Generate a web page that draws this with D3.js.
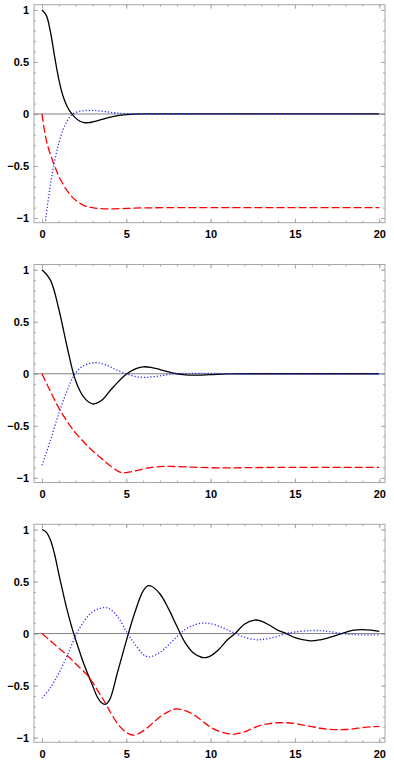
<!DOCTYPE html>
<html>
<head>
<meta charset="utf-8">
<script src="https://cdn.jsdelivr.net/npm/d3@7"></script>
<style>
  body { margin: 0; background: #fff; }
  svg { display: block; }
</style>
</head>
<body>
<div id="chart"></div>
<script>
// values, [t, value]
const black1 = [[0,1],[0.25,0.95],[0.5,0.79],[0.75,0.55],[1,0.33],[1.25,0.17],[1.5,0.07],[1.75,0.005],[2,-0.04],[2.25,-0.07],[2.5,-0.083],[2.75,-0.084],[3,-0.077],[3.5,-0.055],[4,-0.032],[4.5,-0.016],[5,-0.007],[5.5,-0.002],[6,0],[10,0],[20,0]];
const blue1 = [[0,-1.3],[0.25,-0.97],[0.5,-0.68],[0.75,-0.45],[1,-0.28],[1.25,-0.15],[1.5,-0.065],[1.75,-0.01],[2,0.015],[2.5,0.032],[3,0.035],[3.5,0.028],[4,0.017],[4.5,0.008],[5,0.003],[6,0],[10,0],[20,0]];
const red1 = [[0,0],[0.25,-0.25],[0.5,-0.39],[0.75,-0.5],[1,-0.6],[1.5,-0.74],[2,-0.83],[2.5,-0.88],[3,-0.9],[3.5,-0.91],[4,-0.912],[5,-0.908],[6,-0.903],[8,-0.9],[20,-0.9]];

const black2 = [[0,1],[0.5,0.9],[1,0.62],[1.5,0.25],[2,-0.07],[2.5,-0.23],[3,-0.29],[3.5,-0.26],[4,-0.17],[4.5,-0.08],[5,-0.005],[5.5,0.045],[6,0.067],[6.5,0.06],[7,0.04],[7.5,0.018],[8,0],[8.5,-0.01],[9,-0.013],[10,-0.008],[11,-0.002],[12,0],[15,0],[20,0]];
const blue2 = [[0,-0.88],[0.5,-0.64],[1,-0.38],[1.5,-0.16],[2,0.01],[2.5,0.08],[3,0.105],[3.5,0.1],[4,0.07],[4.5,0.03],[5,0],[5.5,-0.025],[6,-0.035],[6.5,-0.03],[7,-0.02],[7.5,-0.008],[8,0],[9,0.004],[10,0.003],[12,0],[20,0]];
const red2 = [[0,0],[0.5,-0.17],[1,-0.33],[1.5,-0.46],[2,-0.57],[2.5,-0.66],[3,-0.74],[3.5,-0.81],[4,-0.88],[4.5,-0.935],[4.75,-0.952],[5,-0.95],[5.5,-0.935],[6,-0.915],[6.5,-0.9],[7,-0.892],[7.5,-0.89],[8,-0.892],[9,-0.898],[10,-0.903],[11,-0.905],[12,-0.903],[14,-0.9],[20,-0.9]];

const black3 = [[0,1],[0.25,0.975],[0.5,0.9],[0.75,0.76],[1,0.57],[1.25,0.39],[1.5,0.22],[1.75,0.07],[2,-0.06],[2.5,-0.3],[3,-0.5],[3.25,-0.6],[3.5,-0.66],[3.75,-0.68],[4,-0.64],[4.5,-0.36],[5,-0.07],[5.5,0.2],[6,0.41],[6.3,0.46],[6.5,0.455],[7,0.38],[7.5,0.24],[8,0.07],[8.5,-0.09],[9,-0.19],[9.5,-0.23],[9.75,-0.23],[10,-0.215],[10.5,-0.15],[11,-0.06],[11.45,0],[12,0.09],[12.6,0.13],[13,0.12],[13.5,0.08],[14,0.03],[14.5,0],[15,-0.04],[15.9,-0.07],[16.5,-0.06],[17,-0.04],[17.77,0],[18.5,0.033],[19,0.038],[19.5,0.033],[20,0.022]];
const blue3 = [[0,-0.62],[0.5,-0.52],[1,-0.38],[1.5,-0.21],[2,-0.02],[2.5,0.12],[3,0.21],[3.5,0.245],[3.75,0.25],[4,0.24],[4.5,0.16],[5,0.02],[5.5,-0.1],[6,-0.2],[6.3,-0.224],[6.5,-0.22],[7,-0.18],[7.5,-0.11],[8,-0.03],[8.5,0.04],[9,0.08],[9.5,0.1],[10,0.095],[10.5,0.07],[11,0.035],[11.5,-0.002],[12,-0.035],[12.7,-0.06],[13,-0.058],[13.5,-0.045],[14,-0.025],[14.5,0],[15,0.015],[16,0.029],[16.5,0.028],[17,0.02],[17.8,0],[18.5,-0.01],[19,-0.013],[19.5,-0.013],[20,-0.012]];
const red3 = [[0,0],[0.5,-0.07],[1,-0.14],[1.5,-0.21],[2,-0.29],[2.63,-0.39],[3,-0.47],[3.5,-0.6],[3.8,-0.68],[4,-0.74],[4.5,-0.87],[5,-0.95],[5.35,-0.975],[5.75,-0.96],[6,-0.935],[6.5,-0.87],[7,-0.8],[7.5,-0.75],[7.93,-0.725],[8.5,-0.74],[9,-0.78],[9.5,-0.84],[10,-0.9],[10.5,-0.94],[11,-0.962],[11.25,-0.968],[11.5,-0.965],[12,-0.945],[12.5,-0.91],[13,-0.88],[13.5,-0.865],[14,-0.857],[14.5,-0.857],[15,-0.865],[15.5,-0.88],[16,-0.895],[16.5,-0.91],[17,-0.92],[17.5,-0.924],[18,-0.922],[18.5,-0.915],[19,-0.905],[19.5,-0.897],[20,-0.892]];

const xMajor = [0, 5, 10, 15, 20];
const xMinor = d3.range(0, 21, 1);
const yMajor = [-1, -0.5, 0, 0.5, 1];
const yMajorLabels = ["\u22121", "\u22120.5", "0", "0.5", "1"];
const yMinor = d3.range(-10, 11).map(d => d / 10);

//DIMENSIONS
const width = 394,
	height = 765,
	frameLeft = 34,
	frameRight = 385,
	frameH = 218;
const panelTops = [4.7, 264.5, 524.3];

const svg = d3.select("#chart").append("svg").attr("width", width).attr("height", height);

const x = d3.scaleLinear().domain([-0.474, 20.34]).range([frameLeft, frameRight]);
const y = d3.scaleLinear().domain([-1.045, 1.05]).range([frameH, 0]);

const line = d3
	.line()
	.x(d => x(d[0]))
	.y(d => y(d[1]))
	.curve(d3.curveCatmullRom.alpha(0.5));

const panels = [
	[black1, blue1, red1],
	[black2, blue2, red2],
	[black3, blue3, red3],
];

panels.forEach((series, i) => {
	const g = svg.append("g").attr("transform", `translate(0,${panelTops[i]})`);

	g.append("clipPath")
		.attr("id", "clip" + i)
		.append("rect")
		.attr("x", frameLeft)
		.attr("y", 0)
		.attr("width", frameRight - frameLeft)
		.attr("height", frameH);

	//TICKS (inward, all four sides)
	const tickStyle = sel => {
		sel.select(".domain").remove();
		sel.selectAll("line").attr("stroke", "#a6a6a6");
		sel.selectAll("text")
			.style("font-family", "'Liberation Sans', Arial, sans-serif")
			.style("font-weight", "bold")
			.style("font-size", "11px")
			.attr("fill", "#000");
	};

	g.append("g")
		.attr("transform", `translate(${frameLeft},0)`)
		.call(d3.axisLeft(y).tickValues(yMinor).tickSize(-2).tickFormat(""))
		.call(tickStyle);
	g.append("g")
		.attr("transform", `translate(${frameLeft},0)`)
		.call(d3.axisLeft(y).tickValues(yMajor).tickSize(-4).tickPadding(5).tickFormat((d, j) => yMajorLabels[j]))
		.call(tickStyle);
	g.append("g")
		.attr("transform", `translate(${frameRight},0)`)
		.call(d3.axisRight(y).tickValues(yMinor).tickSize(-2).tickFormat(""))
		.call(tickStyle);
	g.append("g")
		.attr("transform", `translate(${frameRight},0)`)
		.call(d3.axisRight(y).tickValues(yMajor).tickSize(-4).tickFormat(""))
		.call(tickStyle);
	g.append("g")
		.attr("transform", `translate(0,${frameH})`)
		.call(d3.axisBottom(x).tickValues(xMinor).tickSize(-2).tickFormat(""))
		.call(tickStyle);
	g.append("g")
		.attr("transform", `translate(0,${frameH})`)
		.call(d3.axisBottom(x).tickValues(xMajor).tickSize(-4).tickPadding(8).tickFormat(d3.format("d")))
		.call(tickStyle);
	g.append("g")
		.call(d3.axisTop(x).tickValues(xMinor).tickSize(-2).tickFormat(""))
		.call(tickStyle);
	g.append("g")
		.call(d3.axisTop(x).tickValues(xMajor).tickSize(-4).tickFormat(""))
		.call(tickStyle);

	//FRAME
	g.append("rect")
		.attr("x", frameLeft)
		.attr("y", 0)
		.attr("width", frameRight - frameLeft)
		.attr("height", frameH)
		.attr("fill", "none")
		.attr("stroke", "#a6a6a6")
		.attr("stroke-width", 1);

	//ZERO AXIS
	g.append("line")
		.attr("x1", frameLeft)
		.attr("x2", frameRight)
		.attr("y1", y(0))
		.attr("y2", y(0))
		.attr("stroke", "#808080")
		.attr("stroke-width", 1);

	const curves = g.append("g").attr("clip-path", `url(#clip${i})`);

	// black solid
	curves.append("path")
		.datum(series[0])
		.attr("d", line)
		.attr("fill", "none")
		.attr("stroke", "#000")
		.attr("stroke-width", 1.3);

	// blue dotted
	curves.append("path")
		.datum(series[1])
		.attr("d", line)
		.attr("fill", "none")
		.attr("stroke", "#2b2bff")
		.attr("stroke-width", 1.3)
		.attr("stroke-dasharray", "1.2,2");

	// red dashed
	curves.append("path")
		.datum(series[2])
		.attr("d", line)
		.attr("fill", "none")
		.attr("stroke", "#ff0000")
		.attr("stroke-width", 1.3)
		.attr("stroke-dasharray", "8,3");
});
</script>
</body>
</html>
